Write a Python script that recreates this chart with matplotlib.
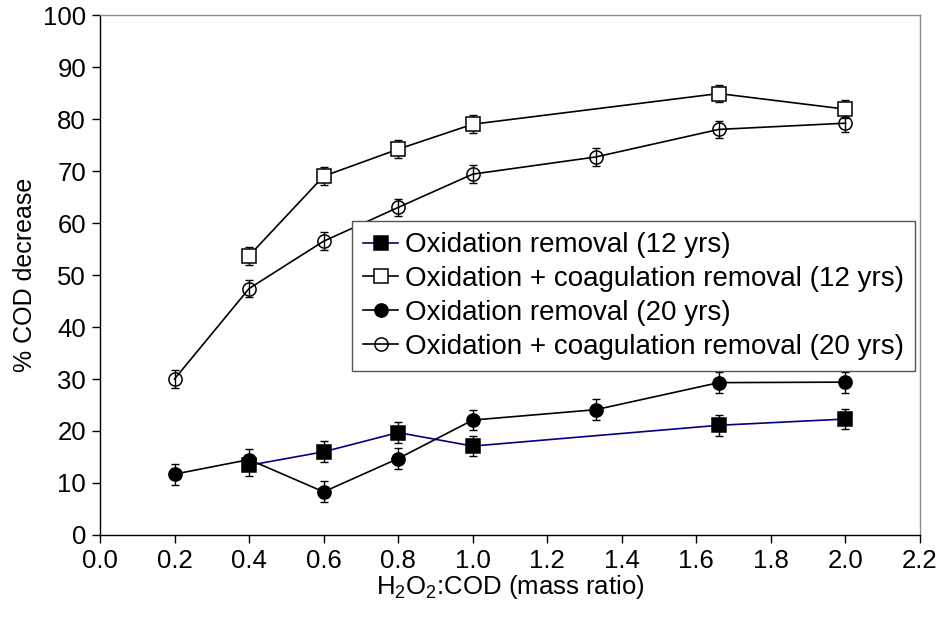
import matplotlib
matplotlib.use("Agg")
import matplotlib.pyplot as plt

plt.rcParams['font.family'] = ['Liberation Sans', 'DejaVu Sans']
plt.rcParams['mathtext.fontset'] = 'custom'
plt.rcParams['mathtext.rm'] = 'Liberation Sans'
plt.rcParams['mathtext.it'] = 'Liberation Sans:italic'

# Data
x_ox12 = [0.4, 0.6, 0.8, 1.0, 1.66, 2.0]
y_ox12 = [13.4, 16.0, 19.7, 17.1, 21.1, 22.3]
e_ox12 = [2.0, 2.0, 2.0, 2.0, 2.0, 2.0]

x_oc12 = [0.4, 0.6, 0.8, 1.0, 1.66, 2.0]
y_oc12 = [53.7, 69.0, 74.2, 79.0, 84.9, 81.9]
e_oc12 = [1.7, 1.7, 1.7, 1.7, 1.7, 1.7]

x_ox20 = [0.2, 0.4, 0.6, 0.8, 1.0, 1.33, 1.66, 2.0]
y_ox20 = [11.7, 14.5, 8.3, 14.7, 22.1, 24.1, 29.3, 29.4]
e_ox20 = [2.0, 2.0, 2.0, 2.0, 2.0, 2.0, 2.0, 2.0]

x_oc20 = [0.2, 0.4, 0.6, 0.8, 1.0, 1.33, 1.66, 2.0]
y_oc20 = [30.0, 47.4, 56.5, 63.0, 69.4, 72.7, 78.0, 79.2]
e_oc20 = [1.7, 1.7, 1.7, 1.7, 1.7, 1.7, 1.7, 1.7]

labels = ["Oxidation removal (12 yrs)",
          "Oxidation + coagulation removal (12 yrs)",
          "Oxidation removal (20 yrs)",
          "Oxidation + coagulation removal (20 yrs)"]

x_ticks = [0.0, 0.2, 0.4, 0.6, 0.8, 1.0, 1.2, 1.4, 1.6, 1.8, 2.0, 2.2]
y_ticks = [0, 10, 20, 30, 40, 50, 60, 70, 80, 90, 100]

fig = plt.figure(figsize=(9.46, 6.21), dpi=100)
ax = fig.add_axes([0.1057, 0.1385, 0.8668, 0.8373])

ms = 9.5
eb_kw = dict(fmt='none', ecolor='black', elinewidth=1.0, capsize=3.2, capthick=1.0, zorder=2)

series = [
    (x_ox12, y_ox12, e_ox12, dict(color='#000080', marker='s', mfc='black', mec='black')),
    (x_oc12, y_oc12, e_oc12, dict(color='black', marker='s', mfc='white', mec='black')),
    (x_ox20, y_ox20, e_ox20, dict(color='black', marker='o', mfc='black', mec='black')),
    (x_oc20, y_oc20, e_oc20, dict(color='black', marker='o', mfc='none', mec='black')),
]

handles = []
for (xs, ys, es, st), lab in zip(series, labels):
    ax.errorbar(xs, ys, yerr=es, **eb_kw)
    h, = ax.plot(xs, ys, lw=1.2, ms=ms, mew=1.1, label=lab, zorder=3, **st)
    handles.append(h)

ax.set_xlim(0, 2.2)
ax.set_ylim(0, 100)
ax.set_xticks(x_ticks)
ax.set_xticklabels([f"{t:.1f}" for t in x_ticks])
ax.set_yticks(y_ticks)

for s in ['top', 'right']:
    ax.spines[s].set_linewidth(1.0)
    ax.spines[s].set_color('#8c8c8c')
for s in ['left', 'bottom']:
    ax.spines[s].set_linewidth(1.0)
    ax.spines[s].set_color('black')

ax.tick_params(axis='both', direction='out', length=6, width=1.0, labelsize=18.5, colors='black', pad=4)

ax.set_xlabel(r"H$_2$O$_2$:COD (mass ratio)", fontsize=18.5, labelpad=0)
ax.set_ylabel("% COD decrease", fontsize=18, labelpad=4)

leg = ax.legend(handles=handles, loc='center', bbox_to_anchor=(0.6506, 0.4596),
                fontsize=20, frameon=True, fancybox=False, framealpha=1,
                edgecolor='#555555', handlelength=1.25, handletextpad=0.24,
                labelspacing=0.28, borderpad=0.42, borderaxespad=0)
leg.get_frame().set_linewidth(1.0)

fig.savefig("out.png", dpi=100)
